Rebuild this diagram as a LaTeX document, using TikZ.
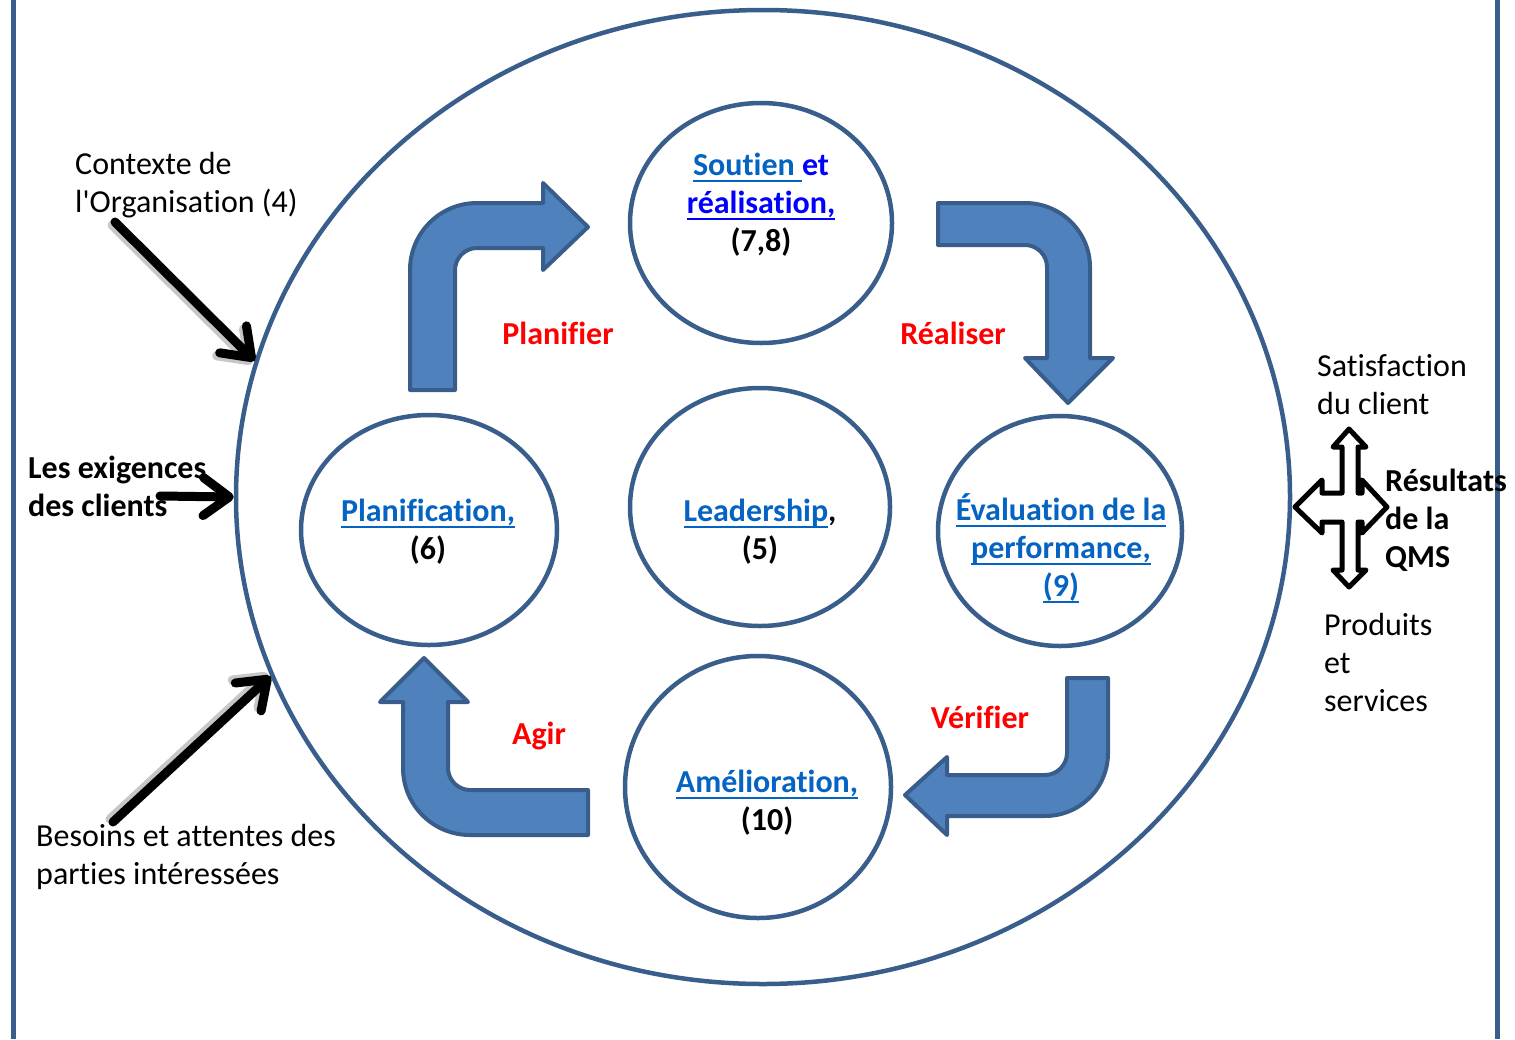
\documentclass[tikz,border=0pt]{standalone}
\usepackage{fontspec}
\setmainfont{Carlito}[Ligatures={TeX,NoCommon}]
\usetikzlibrary{shapes.geometric,arrows.meta}

\definecolor{rim}{HTML}{3A5E8C}
\definecolor{flowfill}{HTML}{4F81BD}
\definecolor{flowedge}{HTML}{385D8A}
\definecolor{lnkblue}{HTML}{0563C1}
\definecolor{pureblue}{HTML}{0000FF}
\definecolor{stepred}{HTML}{FF0000}

% underlined link-like text, rule at a fixed depth
\newcommand\hlink[2][lnkblue]{{\color{#1}\setbox0\hbox{#2}\rlap{\rule[-7pt]{\wd0}{2.4pt}}\box0}}

\begin{document}
\begin{tikzpicture}[x=1pt,y=-1pt,
    every node/.style={font=\fontsize{32}{38}\selectfont,inner sep=0pt},
    ring/.style={ellipse,draw=rim,line width=4.5pt},
    circ text/.style={align=center,anchor=base,font=\fontsize{32}{38}\selectfont\bfseries},
    side text/.style={align=left,anchor=base west},
    bold text/.style={font=\fontsize{32}{38}\selectfont\bfseries},
    step label/.style={anchor=base,text=stepred,font=\fontsize{32}{38}\selectfont\bfseries},
    flow/.style={fill=flowfill,draw=flowedge,line width=4pt,line join=round},
    feed/.style={-{Straight Barb[length=26pt,width=38pt,round]},line width=9pt,line cap=round},
    feed shadow/.style={feed,draw=black!22}]
    \useasboundingbox (0,0) rectangle (1515,1039);
    \draw[rim,line width=5pt] (13,0) -- (13,1039);
    \draw[rim,line width=5pt] (1497,0) -- (1497,1039);

    % the system and its five parts
    \node[ring,minimum width=1054pt,minimum height=974pt] (qms) at (763,497) {};
    \node[ring,minimum width=262pt,minimum height=240pt] (soutien) at (761,223) {};
    \node[ring,minimum width=256pt,minimum height=230pt] (plan) at (429,530) {};
    \node[ring,minimum width=260pt,minimum height=238pt] (lead) at (760,507) {};
    \node[ring,minimum width=244pt,minimum height=230pt] (eval) at (1060,531) {};
    \node[ring,minimum width=266pt,minimum height=262pt] (amelio) at (758,787) {};

    % (base = last line)
    \node[circ text] (soutien txt) at (761,251) {\hlink{Soutien }\textcolor{pureblue}{et}\\\hlink[pureblue]{réalisation,}\\(7,8)};
    \node[circ text] (plan txt) at (428,559) {\hlink{Planification,}\\(6)};
    \node[circ text] (lead txt) at (760,559) {\hlink{Leadership},\\(5)};
    \node[circ text] (eval txt) at (1061,596) {\hlink{Évaluation de la}\\\hlink{performance,}\\\hlink{(9)}};
    \node[circ text] (amelio txt) at (767,830) {\hlink{Amélioration,}\\(10)};

    % PDCA block arrows
    \draw[flow] (410,390) -- (410,270) .. controls (410,233) and (440,203) .. (477,203) -- (543,203)
        -- (543,183) -- (588,227) -- (543,270) -- (543,248) -- (477,248)
        .. controls (465,248) and (455,258) .. (455,270) -- (455,390) -- cycle;
    \draw[flow] (938,203) -- (1025,203) .. controls (1061,203) and (1090,232) .. (1090,267) -- (1090,358)
        -- (1113,358) -- (1068,403) -- (1025,358) -- (1047,358) -- (1047,267)
        .. controls (1047,255) and (1037,245) .. (1025,245) -- (938,245) -- cycle;
    \draw[flow] (1067,678) -- (1108,678) -- (1108,753) .. controls (1108,788) and (1080,816) .. (1045,816)
        -- (947,816) -- (947,835) -- (905,795) -- (947,757) -- (947,775) -- (1045,775)
        .. controls (1057,775) and (1067,765) .. (1067,753) -- cycle;
    \draw[flow] (588,790) -- (470,790) .. controls (458,790) and (448,780) .. (448,768) -- (448,702)
        -- (468,702) -- (424,658) -- (380,702) -- (403,702) -- (403,768)
        .. controls (403,805) and (433,835) .. (470,835) -- (588,835) -- cycle;

    \node[step label] (planifier) at (558,344) {Planifier};
    \node[step label] (realiser) at (953,344) {Réaliser};
    \node[step label] (verifier) at (980,728) {Vérifier};
    \node[step label] (agir) at (539,744) {Agir};

    % outputs
    \draw[line width=5pt,line join=round,fill=white] (1349,429) -- (1366,447) -- (1358,447) -- (1358,493)
        -- (1362,493) -- (1362,480) -- (1387,507) -- (1362,533) -- (1362,522) -- (1358,522)
        -- (1358,570) -- (1366,570) -- (1349,587) -- (1333,570) -- (1342,570) -- (1342,522)
        -- (1322,522) -- (1322,533) -- (1295,507) -- (1322,480) -- (1322,493) -- (1342,493)
        -- (1342,447) -- (1333,447) -- cycle;

    \node[side text] (contexte) at (75,212) {Contexte de\\l\textquotesingle Organisation (4)};
    \node[side text,bold text] (exigences) at (28,516) {Les exigences\\des clients};
    \node[side text] (besoins) at (36,884) {Besoins et attentes des\\parties intéressées};
    \node[side text] (satisf) at (1317,414) {Satisfaction\\du client};
    \node[side text,bold text] (resultats) at (1385,567) {Résultats\\de la\\QMS};
    \node[side text] (produits) at (1324,711) {Produits\\et\\services};

    % inputs
    \coordinate (ctx from) at (115,222);
    \coordinate (exig from) at (160,496);
    \coordinate (bes from) at (113,822);
    \draw[feed shadow,transform canvas={xshift=-3pt,yshift=-3pt}] (ctx from) -- (qms.165.5);
    \draw[feed shadow,transform canvas={xshift=-3pt,yshift=3pt}] (bes from) -- (qms.200);
    \draw[feed] (ctx from) -- (qms.165.5);
    \draw[feed] (exig from) -- (qms.west);
    \draw[feed] (bes from) -- (qms.200);
\end{tikzpicture}
\end{document}
